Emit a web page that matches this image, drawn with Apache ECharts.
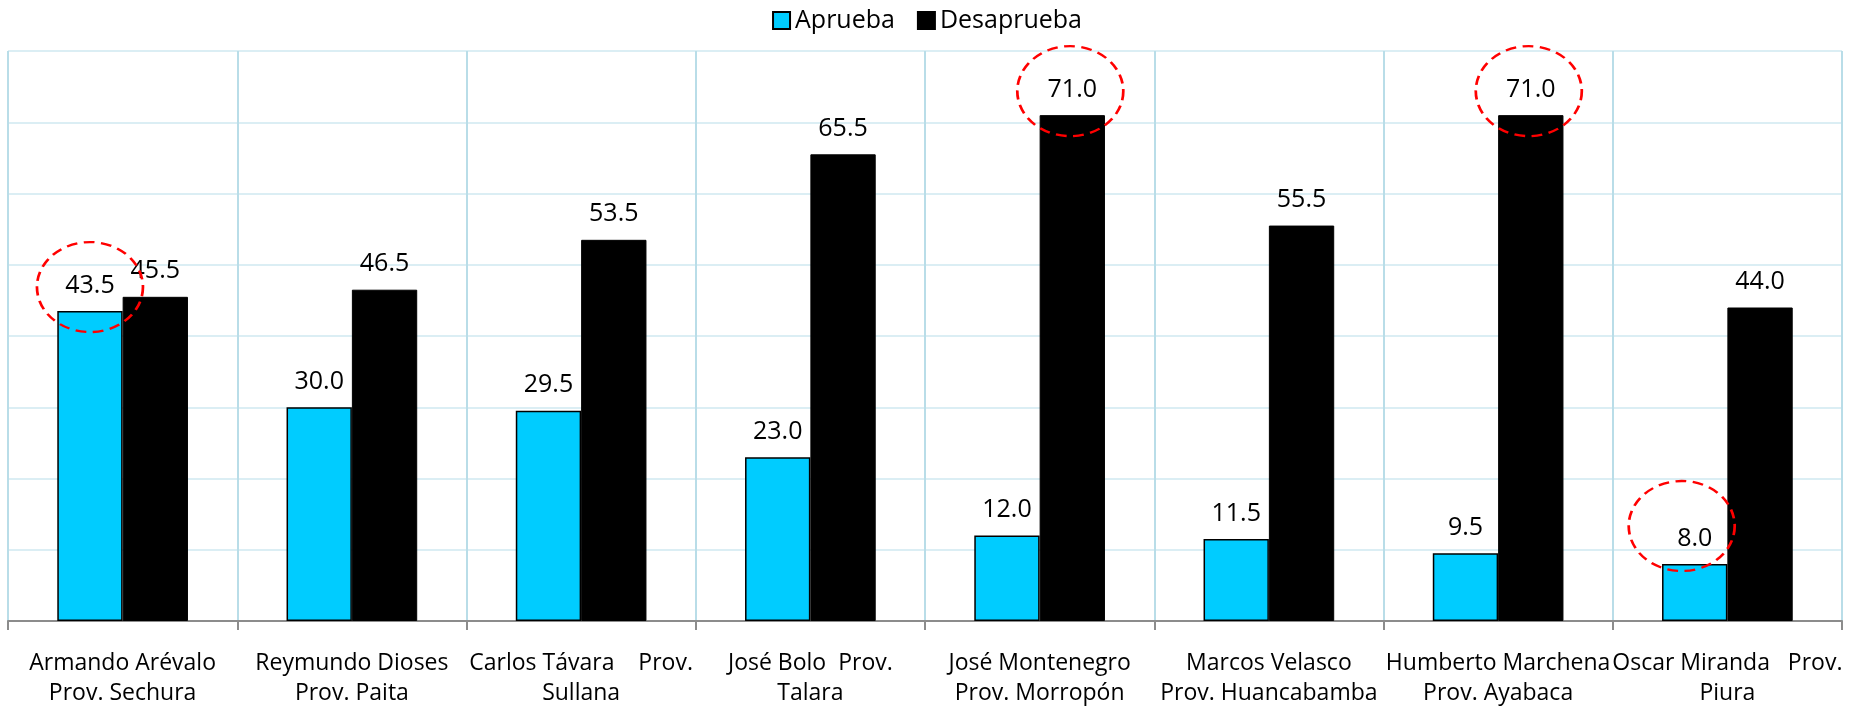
<!DOCTYPE html>
<html>
<head>
<meta charset="utf-8">
<script src="https://cdn.jsdelivr.net/npm/echarts@6/dist/echarts.min.js"></script>
<style>
  html, body { margin: 0; padding: 0; background: #fff; }
  #chart { width: 1854px; height: 708px; }
</style>
</head>
<body>
<div id="chart"></div>
<script>
var categories = [
  "Armando Arévalo\nProv. Sechura",
  "Reymundo Dioses\nProv. Paita",
  "Carlos Távara    Prov.\nSullana",
  "José Bolo  Prov.\nTalara",
  "José Montenegro\nProv. Morropón",
  "Marcos Velasco\nProv. Huancabamba",
  "Humberto Marchena\nProv. Ayabaca",
  "Oscar Miranda   Prov.\nPiura"
];
var aprueba = [43.5, 30.0, 29.5, 23.0, 12.0, 11.5, 9.5, 8.0];
var desaprueba = [45.5, 46.5, 53.5, 65.5, 71.0, 55.5, 71.0, 44.0];

// valores resaltados con circulo rojo (indice de categoria)
var circledAprueba = [0, 7];
var circledDesaprueba = [4, 6];

var font = "'Open Sans', 'DejaVu Sans', sans-serif";

function ring(idx, values, offset) {
  return {
    coord: [idx, values[idx]],
    symbolOffset: offset
  };
}

var ringStyle = {
  symbol: 'circle',
  symbolSize: [106, 90],
  label: { show: false },
  itemStyle: {
    color: 'rgba(0,0,0,0)',
    borderColor: '#ff0000',
    borderWidth: 2.5,
    borderType: [10, 6]
  },
  emphasis: { disabled: true }
};

var myChart = echarts.init(document.getElementById("chart"));

option = {
  animation: false,
  textStyle: { fontFamily: font },
  legend: {
    top: 3,
    left: 'center',
    icon: 'rect',
    itemWidth: 17,
    itemHeight: 17,
    itemGap: 22,
    textStyle: { fontSize: 25, color: '#000', fontFamily: font },
    data: ['Aprueba', 'Desaprueba']
  },
  grid: { left: 8, right: 12, top: 51, bottom: 87, containLabel: false, outerBoundsMode: 'none' },
  xAxis: {
    type: 'category',
    data: categories,
    axisLine: { lineStyle: { color: '#8c8c8c', width: 2 } },
    axisTick: { show: true, length: 9, lineStyle: { color: '#8c8c8c', width: 2 } },
    axisLabel: {
      interval: 0,
      margin: 27,
      fontSize: 23,
      lineHeight: 30,
      color: '#000',
      fontFamily: font
    },
    splitLine: { show: true, lineStyle: { color: '#b9dde8', width: 2 } }
  },
  yAxis: {
    type: 'value',
    min: 0,
    max: 80,
    interval: 10,
    axisLine: { show: false },
    axisTick: { show: false },
    axisLabel: { show: false },
    splitLine: { lineStyle: { color: '#dbeef4', width: 2 } }
  },
  series: [
    {
      name: 'Aprueba',
      type: 'bar',
      data: aprueba,
      barGap: '0%',
      barCategoryGap: '43%',
      itemStyle: { color: '#00ccff', borderColor: '#000', borderWidth: 1.5 },
      label: {
        show: true,
        position: 'top',
        distance: 13,
        fontSize: 25,
        color: '#000',
        fontFamily: font,
        formatter: function (p) { return p.value.toFixed(1); }
      },
      markPoint: Object.assign({
        data: [
          ring(circledAprueba[0], aprueba, [0, -24]),
          ring(circledAprueba[1], aprueba, [-13, -38])
        ]
      }, ringStyle)
    },
    {
      name: 'Desaprueba',
      type: 'bar',
      data: desaprueba,
      itemStyle: { color: '#000', borderColor: '#000', borderWidth: 1 },
      label: {
        show: true,
        position: 'top',
        distance: 13,
        fontSize: 25,
        color: '#000',
        fontFamily: font,
        formatter: function (p) { return p.value.toFixed(1); }
      },
      markPoint: Object.assign({
        data: [
          ring(circledDesaprueba[0], desaprueba, [-2, -24]),
          ring(circledDesaprueba[1], desaprueba, [-2, -24])
        ]
      }, ringStyle)
    }
  ]
};

myChart.setOption(option);
</script>
</body>
</html>
